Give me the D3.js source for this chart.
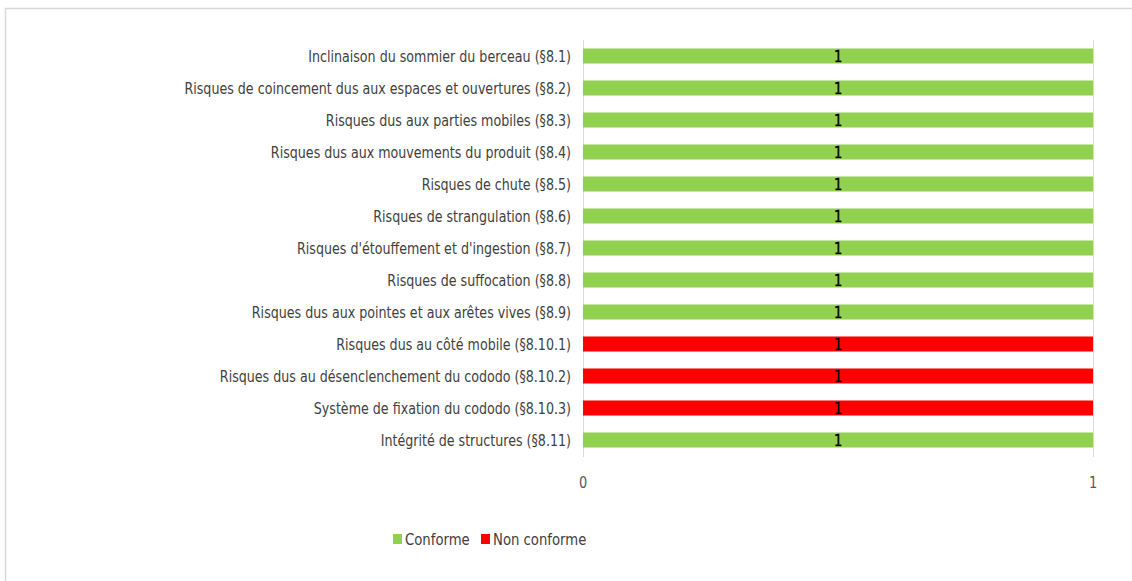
<!DOCTYPE html>
<html>
<head>
<meta charset="utf-8">
<script src="https://cdn.jsdelivr.net/npm/d3@7"></script>
<style>
  body { margin: 0; background: #fff; }
  text { font-family: "Liberation Sans Narrow", "DejaVu Sans Condensed", sans-serif; }
</style>
</head>
<body>
<div id="chart"></div>
<script>
// categories, top to bottom
const categories = [
    "Inclinaison du sommier du berceau (§8.1)",
    "Risques de coincement dus aux espaces et ouvertures (§8.2)",
    "Risques dus aux parties mobiles (§8.3)",
    "Risques dus aux mouvements du produit (§8.4)",
    "Risques de chute (§8.5)",
    "Risques de strangulation (§8.6)",
    "Risques d'étouffement et d'ingestion (§8.7)",
    "Risques de suffocation (§8.8)",
    "Risques dus aux pointes et aux arêtes vives (§8.9)",
    "Risques dus au côté mobile (§8.10.1)",
    "Risques dus au désenclenchement du cododo (§8.10.2)",
    "Système de fixation du cododo (§8.10.3)",
    "Intégrité de structures (§8.11)"
];
const conforme    = [1, 1, 1, 1, 1, 1, 1, 1, 1, 0, 0, 0, 1];
const nonConforme = [0, 0, 0, 0, 0, 0, 0, 0, 0, 1, 1, 1, 0];
const seriesNames = ["Conforme", "Non conforme"];
const seriesColors = ["#92D050", "#FF0000"];
const xTicks = [0, 1];

const width = 1132, height = 581;

const svg = d3.select("#chart")
    .append("svg")
    .attr("width", width)
    .attr("height", height);

// chart frame
svg.append("rect")
    .attr("x", 5.5).attr("y", 8.5)
    .attr("width", width + 10).attr("height", height + 10)
    .attr("fill", "none")
    .attr("stroke", "#d9d9d9")
    .attr("stroke-width", 1.5);

const x = d3.scaleLinear().domain([0, 1]).range([583, 1093]);
const y = d3.scaleBand().domain(categories).range([40, 456]).paddingInner(0.53).paddingOuter(0.265);

// gridlines
svg.append("g")
    .selectAll("line")
    .data(xTicks)
    .join("line")
    .attr("x1", d => x(d) + 0.5).attr("x2", d => x(d) + 0.5)
    .attr("y1", 40).attr("y2", 457)
    .attr("stroke", "#d9d9d9");

// stacked bars
const rows = categories.map((c, i) => ({ cat: c, Conforme: conforme[i], "Non conforme": nonConforme[i] }));
const stack = d3.stack().keys(seriesNames)(rows);

svg.append("g")
    .selectAll("g")
    .data(stack)
    .join("g")
    .attr("fill", (d, i) => seriesColors[i])
    .selectAll("rect")
    .data(d => d.filter(p => p[1] > p[0]))
    .join("rect")
    .attr("x", d => x(d[0]))
    .attr("y", d => y(d.data.cat))
    .attr("width", d => x(d[1]) - x(d[0]))
    .attr("height", y.bandwidth());

// data labels
svg.append("g")
    .selectAll("text")
    .data(stack.flatMap(s => s.filter(p => p[1] > p[0])))
    .join("text")
    .attr("transform", d => `translate(${(x(d[0]) + x(d[1])) / 2}, ${y(d.data.cat) + y.bandwidth() / 2}) scale(0.9,1)`)
    .attr("dy", "0.38em")
    .attr("text-anchor", "middle")
    .attr("font-size", "16px")
    .attr("fill", "#000")
    .attr("stroke", "#000")
    .attr("stroke-width", 0.4)
    .text(d => d[1] - d[0]);

// category labels (narrow font squeezed horizontally)
svg.append("g")
    .selectAll("text")
    .data(categories)
    .join("text")
    .attr("transform", d => `translate(571, ${y(d) + y.bandwidth() / 2}) scale(0.88,1)`)
    .attr("dy", "0.36em")
    .attr("text-anchor", "end")
    .attr("font-size", "16px")
    .attr("fill", "#404040")
    .text(d => d);

// x axis tick labels
svg.append("g")
    .selectAll("text")
    .data(xTicks)
    .join("text")
    .attr("transform", d => `translate(${x(d)}, 488) scale(0.9,1)`)
    .attr("text-anchor", "middle")
    .attr("font-size", "16px")
    .attr("fill", "#595959")
    .text(d => d);

// legend
const legendX = [393, 481];
const legend = svg.append("g")
    .selectAll("g")
    .data(seriesNames)
    .join("g")
    .attr("transform", (d, i) => `translate(${legendX[i]}, 539)`);
legend.append("rect")
    .attr("x", 0).attr("y", -5)
    .attr("width", 9).attr("height", 10)
    .attr("fill", (d, i) => seriesColors[i]);
legend.append("text")
    .attr("transform", "translate(12,0) scale(0.92,1)")
    .attr("dy", "0.36em")
    .attr("font-size", "16px")
    .attr("fill", "#404040")
    .text(d => d);
</script>
</body>
</html>
